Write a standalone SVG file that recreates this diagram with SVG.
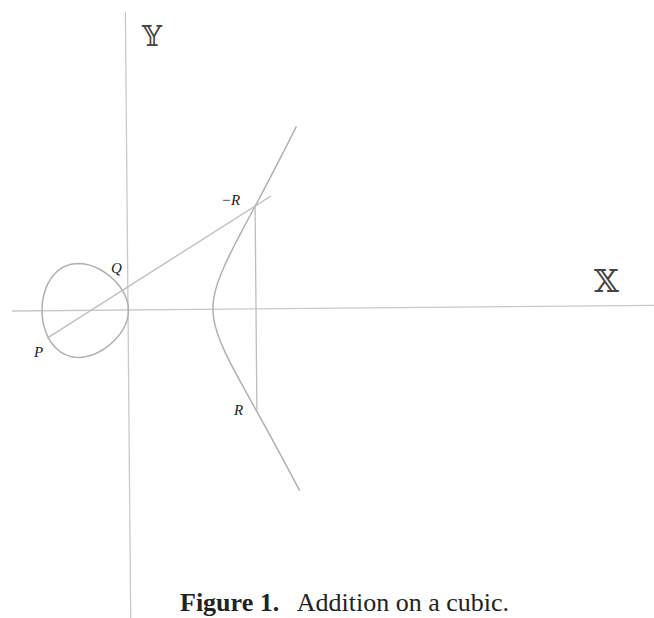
<svg xmlns="http://www.w3.org/2000/svg" width="654" height="618" viewBox="0 0 654 618">
<style>
.axis{stroke:#c9c9c9;stroke-width:1.3;fill:none}
.curve{stroke:#b0b0b0;stroke-width:1.5;fill:none;stroke-linejoin:round}
.conn{stroke:#bdbdbd;stroke-width:1.3;fill:none}
.lbl{font-family:"Liberation Serif",serif;font-style:italic;font-size:15px;fill:#222}
.bb{font-family:"DejaVu Serif","DejaVu Sans",serif;fill:#444}
.cap{font-family:"Liberation Serif",serif;font-size:26px;fill:#222}
</style>
<rect width="654" height="618" fill="#fff"/>
<g transform="rotate(-0.5 128 310)">
<g id="axes">
<line class="axis" x1="128" y1="12" x2="128" y2="630"/>
<line class="axis" x1="12" y1="310" x2="660" y2="310"/>
</g>
<g id="cubic">
<polygon class="curve" points="42,310 42.1,306.4 42.5,301.9 43,298.6 44,294 46,287.7 48,283.2 51,278.1 55,273.1 60,268.8 65,265.9 70,264.1 75,263.2 80,263 85,263.6 90,264.8 95,266.6 100,269 105,272.1 110,275.9 115,280.5 120,286.4 123,291 125,294.8 127,300.1 128,304.3 128.3,306.4 128.5,310 128.3,313.6 128,315.7 127,319.9 125,325.2 123,329 120,333.6 115,339.5 110,344.1 105,347.9 100,351 95,353.4 90,355.2 85,356.4 80,357 75,356.8 70,355.9 65,354.1 60,351.2 55,346.9 51,341.9 48,336.8 46,332.3 44,326 43,321.4 42.5,318.1 42.1,313.6"/>
<polyline class="curve" points="298,127.8 290,143.4 280,162.5 270,181.4 262,196.2 256,207.2 250,218.3 245,227.5 240,236.8 235,246.2 230,256 225,266.3 220,278 217,286.4 215,293.6 214,298.5 213.5,301.9 213.1,306.4 213,310 213.1,313.6 213.5,318.1 214,321.5 215,326.4 217,333.6 220,342 225,353.7 230,364 235,373.8 240,383.2 245,392.5 250,401.7 256,412.8 262,423.8 270,438.6 280,457.5 290,476.6 298,492.2"/>
</g>
<g id="connectors">
<line class="conn" x1="47" y1="337.4" x2="272" y2="197.2"/>
<line class="conn" x1="256" y1="207.2" x2="256" y2="412.8"/>
</g>
</g>
<g id="label-X"><text class="bb" x="594" y="292" font-size="32">𝕏</text></g>
<g id="label-Y"><text class="bb" x="142" y="46" font-size="28">𝕐</text></g>
<g id="point-P"><text class="lbl" x="34" y="357" font-size="16">P</text></g>
<g id="point-Q"><text class="lbl" x="111" y="273">Q</text></g>
<g id="point-negR"><text class="lbl" x="221" y="205">−R</text></g>
<g id="point-R"><text class="lbl" x="234" y="415">R</text></g>
<g id="caption">
<text class="cap" x="180" y="611" font-weight="bold">Figure 1.</text>
<text class="cap" x="509" y="611" text-anchor="end">Addition on a cubic.</text>
</g>
</svg>
